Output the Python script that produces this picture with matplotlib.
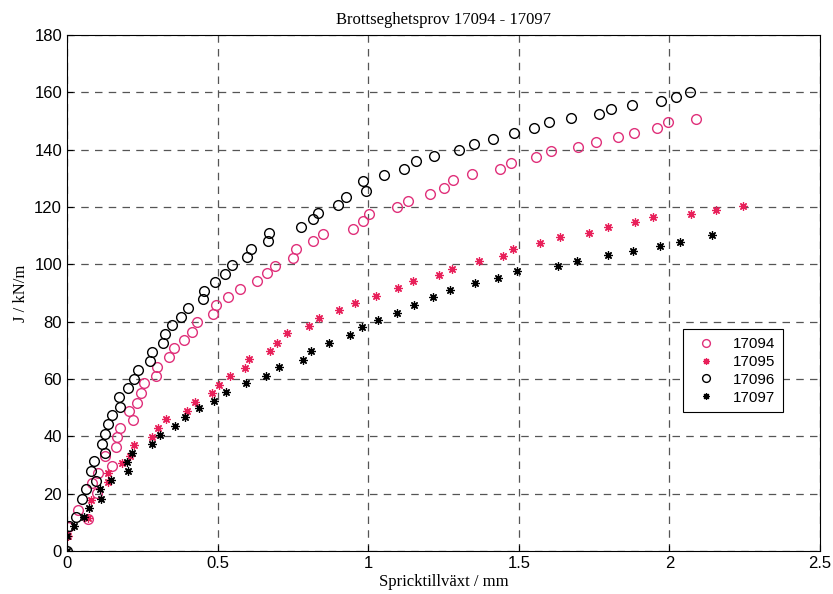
import numpy as np
import matplotlib
matplotlib.use("Agg")
import matplotlib.pyplot as plt

# Spricktillväxt (mm) and J (kN/m)
x_17094 = [0.004, 0.036, 0.071, 0.083, 0.101, 0.102, 0.126, 0.148, 0.162, 0.165, 0.177, 0.218, 0.206,
           0.232, 0.247, 0.256, 0.296, 0.300, 0.339, 0.354, 0.389, 0.414, 0.432, 0.484, 0.494, 0.535,
           0.575, 0.631, 0.663, 0.690, 0.752, 0.762, 0.818, 0.849, 0.951, 0.984, 1.002, 1.097, 1.131,
           1.204, 1.252, 1.282, 1.346, 1.439, 1.475, 1.557, 1.607, 1.695, 1.755, 1.828, 1.883, 1.959,
           1.996, 2.087]
y_17094 = [8.3, 14.3, 11.3, 23.6, 20.3, 27.1, 33.2, 29.8, 36.2, 39.7, 42.8, 45.7, 48.8,
           51.7, 55.0, 58.5, 61.2, 64.3, 67.6, 70.7, 73.6, 76.5, 79.8, 82.7, 85.7, 88.7,
           91.4, 94.1, 96.9, 99.6, 102.3, 105.3, 108.0, 110.6, 112.4, 115.0, 117.7, 120.1, 122.2,
           124.5, 126.7, 129.5, 131.4, 133.2, 135.4, 137.4, 139.5, 141.0, 142.8, 144.3, 146.0, 147.7,
           149.6, 150.8]

x_17095 = [0.004, 0.071, 0.079, 0.137, 0.137, 0.183, 0.209, 0.223, 0.283, 0.301, 0.329, 0.400, 0.425,
           0.481, 0.504, 0.540, 0.591, 0.605, 0.674, 0.698, 0.729, 0.804, 0.838, 0.903, 0.955, 1.026,
           1.100, 1.150, 1.235, 1.277, 1.368, 1.447, 1.481, 1.569, 1.637, 1.733, 1.795, 1.887, 1.946,
           2.072, 2.156, 2.243]
y_17095 = [5.2, 11.5, 17.8, 24.0, 27.1, 30.6, 33.2, 36.9, 39.9, 43.0, 45.9, 48.9, 51.9,
           55.0, 58.0, 60.9, 63.9, 67.0, 69.9, 72.7, 75.9, 78.5, 81.3, 84.1, 86.4, 88.9,
           91.7, 94.1, 96.4, 98.5, 101.2, 102.8, 105.3, 107.4, 109.7, 111.1, 112.9, 114.8, 116.5,
           117.5, 118.9, 120.3]

x_17096 = [0.0, 0.008, 0.029, 0.051, 0.063, 0.079, 0.089, 0.095, 0.116, 0.126, 0.126, 0.137, 0.150,
           0.176, 0.174, 0.204, 0.223, 0.236, 0.275, 0.282, 0.319, 0.327, 0.348, 0.378, 0.401, 0.451,
           0.456, 0.491, 0.523, 0.547, 0.597, 0.612, 0.668, 0.670, 0.776, 0.818, 0.832, 0.901, 0.927,
           0.982, 0.993, 1.053, 1.120, 1.159, 1.219, 1.300, 1.351, 1.416, 1.483, 1.549, 1.601, 1.673,
           1.766, 1.806, 1.876, 1.972, 2.021, 2.070]
y_17096 = [0.0, 8.7, 11.8, 18.0, 21.6, 28.0, 31.4, 24.5, 37.5, 40.8, 34.2, 44.2, 47.4,
           50.3, 53.6, 57.0, 59.9, 63.1, 66.3, 69.5, 72.4, 75.7, 78.8, 81.7, 84.9, 87.8,
           90.7, 93.7, 96.6, 99.8, 102.7, 105.2, 108.1, 110.8, 112.9, 115.7, 118.0, 120.7, 123.5,
           129.0, 125.7, 131.3, 133.2, 135.9, 137.9, 139.9, 141.9, 143.9, 145.8, 147.6, 149.6, 150.9,
           152.3, 154.2, 155.7, 156.9, 158.5, 160.1]

x_17097 = [0.0, 0.0, 0.023, 0.056, 0.073, 0.110, 0.114, 0.145, 0.204, 0.198, 0.217, 0.283, 0.310,
           0.360, 0.391, 0.437, 0.489, 0.528, 0.594, 0.660, 0.703, 0.785, 0.811, 0.870, 0.939, 0.979,
           1.033, 1.097, 1.152, 1.215, 1.271, 1.354, 1.431, 1.494, 1.630, 1.693, 1.795, 1.879, 1.968,
           2.034, 2.140]
y_17097 = [0.0, 5.2, 8.7, 12.0, 14.9, 21.5, 18.2, 24.8, 27.9, 31.0, 34.3, 37.3, 40.6,
           43.6, 46.9, 49.8, 52.4, 55.6, 58.5, 61.1, 64.1, 66.8, 69.7, 72.4, 75.3, 78.0,
           80.6, 83.1, 85.7, 88.5, 91.0, 93.4, 95.2, 97.7, 99.6, 101.2, 103.2, 104.7, 106.5,
           107.9, 110.1]

pink = '#e0307a'
red = '#e8205a'
star = (8, 2, 0)

fig = plt.figure(figsize=(8.33, 5.94), dpi=100)
ax = fig.add_axes([0.0804, 0.0724, 0.904, 0.8686])

ax.plot(x_17094, y_17094, linestyle='none', marker='o', markersize=7, markerfacecolor='none',
        markeredgecolor=pink, markeredgewidth=1.0, label='17094')
ax.plot(x_17095, y_17095, linestyle='none', marker=star, markersize=6,
        markeredgecolor=red, markeredgewidth=0.9, label='17095')
ax.plot(x_17096, y_17096, linestyle='none', marker='o', markersize=7, markerfacecolor='none',
        markeredgecolor='black', markeredgewidth=1.0, label='17096')
ax.plot(x_17097, y_17097, linestyle='none', marker=star, markersize=6,
        markeredgecolor='black', markeredgewidth=0.9, label='17097')

ax.set_xlim(0, 2.5)
ax.set_ylim(0, 180)
ax.set_xticks([0, 0.5, 1, 1.5, 2, 2.5])
ax.set_xticklabels(['0', '0.5', '1', '1.5', '2', '2.5'])
ax.set_yticks(np.arange(0, 181, 20))
ax.tick_params(direction='in', length=4, labelsize=12, top=False, right=False)
for lab in ax.get_xticklabels() + ax.get_yticklabels():
    lab.set_family('Liberation Sans')

ax.grid(True, linestyle=(0, (6, 5)), color='#555555', linewidth=0.9)

ax.set_title('Brottseghetsprov 17094 - 17097', family='Liberation Serif', fontsize=12, pad=8)
ax.set_xlabel('Spricktillväxt / mm', family='Liberation Serif', fontsize=12, labelpad=2)
ax.set_ylabel('J / kN/m', family='Liberation Serif', fontsize=12, labelpad=4)

leg = ax.legend(loc='lower left', bbox_to_anchor=(0.818, 0.269), borderaxespad=0,
                prop={'family': 'Liberation Sans', 'size': 11},
                fancybox=False, edgecolor='black', framealpha=1, handlelength=2.0, borderpad=0.5,
                labelspacing=0.25, markerscale=0.8)
leg.get_frame().set_linewidth(0.8)

plt.savefig('out.png', dpi=100)
